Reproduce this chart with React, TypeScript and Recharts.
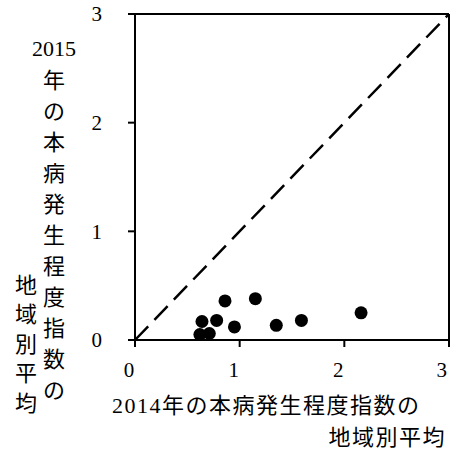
import { ScatterChart, Scatter, XAxis, YAxis, ReferenceLine, Label } from 'recharts'

const x2014 = [0.86, 1.15, 2.16, 0.64, 0.78, 0.95, 1.35, 1.59, 0.62, 0.71]
const y2015 = [0.36, 0.38, 0.25, 0.17, 0.18, 0.12, 0.135, 0.18, 0.05, 0.06]
const ticks = [0, 1, 2, 3]

const yTitleTop = '2015'
const yTitleCol1 = '年の本病発生程度指数の'
const yTitleCol2 = '地域別平均'
const xTitleLine1 = '2014年の本病発生程度指数の'
const xTitleLine2 = '地域別平均'

const points = x2014.map((x, i) => ({ x, y: y2015[i] }))

const font = "'Liberation Serif', 'Noto Sans CJK JP', serif"

function YTitle() {
  return (
    <g fontFamily={font} fontSize={22} fill='#000' textAnchor='middle'>
      <text x={54} y={48} dominantBaseline='central'>
        {yTitleTop}
      </text>
      {yTitleCol1.split('').map((ch, i) => (
        <text key={'a' + i} x={54} y={80 + i * 31} dominantBaseline='central'>
          {ch}
        </text>
      ))}
      {yTitleCol2.split('').map((ch, i) => (
        <text key={'b' + i} x={26} y={285 + i * 29.5} dominantBaseline='central'>
          {ch}
        </text>
      ))}
    </g>
  )
}

function XTitle() {
  return (
    <g fontFamily={font} fontSize={22} fill='#000' letterSpacing={1.5}>
      <text x={112} y={405} dominantBaseline='central'>
        {xTitleLine1}
      </text>
      <text x={446} y={437} dominantBaseline='central' textAnchor='end'>
        {xTitleLine2}
      </text>
    </g>
  )
}

export default function App() {
  return (
    <div style={{ position: 'absolute', left: 0, top: 0 }}>
      <ScatterChart
        width={453}
        height={450}
        margin={{ top: 14, right: 4, left: 0, bottom: 0 }}
      >
        <XAxis
          type='number'
          dataKey='x'
          domain={[0, 3]}
          ticks={ticks}
          height={110}
          stroke='#000'
          strokeWidth={2}
          tickSize={7}
          tickMargin={15}
          tick={{ fill: '#000', fontSize: 21, fontFamily: font, dx: -6 }}
        >
          <Label content={<XTitle />} />
        </XAxis>
        <YAxis
          type='number'
          dataKey='y'
          domain={[0, 3]}
          ticks={ticks}
          width={135}
          stroke='#000'
          strokeWidth={2}
          tickSize={7}
          tickMargin={2}
          tick={{ fill: '#000', fontSize: 21, fontFamily: font, dx: -24 }}
        >
          <Label content={<YTitle />} />
        </YAxis>
        <ReferenceLine y={3} stroke='#000' strokeWidth={2} ifOverflow='visible' />
        <ReferenceLine x={3} stroke='#000' strokeWidth={2} ifOverflow='visible' />
        <ReferenceLine
          segment={[
            { x: 0, y: 0 },
            { x: 3, y: 3 },
          ]}
          stroke='#000'
          strokeWidth={2.5}
          strokeDasharray='19 9'
          ifOverflow='visible'
        />
        <Scatter
          data={points}
          fill='#000'
          isAnimationActive={false}
          shape={(props: any) => <circle cx={props.cx} cy={props.cy} r={6.5} fill='#000' />}
        />
      </ScatterChart>
    </div>
  )
}
